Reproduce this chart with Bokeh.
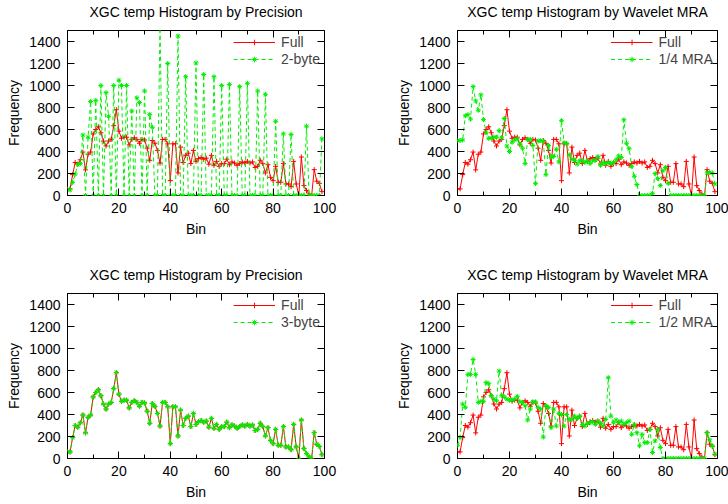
from bokeh.plotting import figure
from bokeh.layouts import gridplot
from bokeh.models import (Range1d, LinearAxis, SingleIntervalTicker, Legend, LegendItem,
                          ColumnDataSource, CustomJSTickFormatter)
from bokeh.embed import file_html
from bokeh.resources import INLINE

# ---------------- data ----------------
BINS = list(range(100))

FULL = [60, 60, 190, 300, 285, 325, 395, 233, 375, 395,
        560, 600, 625, 570, 495, 450, 495, 510, 635, 780,
        585, 520, 530, 530, 460, 510, 525, 510, 475, 510,
        505, 430, 320, 500, 475, 410, 295, 510, 510, 470,
        135, 470, 470, 205, 440, 300, 365, 385, 290, 410,
        310, 335, 345, 330, 340, 285, 365, 275, 310, 265,
        290, 290, 330, 280, 305, 295, 275, 290, 305, 295,
        310, 295, 305, 255, 265, 320, 290, 205, 280, 165,
        135, 265, 120, 120, 290, 105, 105, 80, 310, 105,
        0, 350, 90, 45, 15, 0, 235, 130, 110, 35]

TWO_BYTE = [57, 50, 120, 195, 280, 290, 550, 0, 530, 855,
            0, 865, 0, 1000, 0, 935, 720, 0, 1000, 0,
            1048, 1000, 0, 1000, 0, 768, 0, 888, 845, 0,
            950, 0, 738, 620, 0, 0, 1560, 0, 0, 1200,
            0, 0, 0, 1450, 0, 0, 1080, 0, 0, 0,
            1205, 0, 0, 1100, 0, 0, 0, 1080, 0, 0,
            1000, 0, 0, 1010, 0, 0, 0, 990, 0, 0,
            1020, 0, 0, 0, 950, 0, 0, 920, 0, 0,
            0, 675, 0, 0, 560, 0, 0, 555, 0, 0,
            0, 0, 0, 630, 0, 0, 0, 0, 0, 515]

THREE_BYTE = [60, 60, 190, 300, 285, 325, 395, 233, 375, 395,
              560, 600, 625, 570, 495, 450, 495, 510, 635, 780,
              585, 520, 530, 530, 460, 510, 525, 510, 475, 510,
              505, 430, 320, 500, 475, 410, 295, 510, 510, 470,
              135, 470, 470, 205, 440, 300, 365, 385, 290, 410,
              310, 335, 345, 330, 340, 285, 365, 275, 310, 265,
              290, 290, 330, 280, 305, 295, 275, 290, 305, 295,
              310, 295, 305, 255, 265, 320, 290, 205, 280, 165,
              135, 265, 120, 120, 290, 105, 105, 80, 310, 105,
              0, 350, 90, 45, 15, 0, 235, 130, 110, 35]

QUARTER_MRA = [500, 500, 505, 725, 735, 695, 990, 860, 775, 915,
               690, 575, 520, 520, 530, 530, 590, 525, 700, 450,
               400, 485, 505, 515, 470, 430, 290, 510, 510, 455,
               110, 495, 500, 495, 190, 455, 345, 355, 420, 305,
               680, 480, 470, 370, 330, 320, 285, 315, 315, 300,
               315, 290, 315, 320, 355, 275, 300, 290, 300, 290,
               300, 325, 360, 345, 688, 475, 425, 265, 175, 100,
               0, 0, 0, 0, 0, 20, 200, 155, 90, 225,
               255, 110, 0, 0, 0, 0, 0, 0, 0, 0,
               0, 0, 0, 0, 0, 0, 205, 210, 205, 105]

HALF_MRA = [120, 190, 495, 465, 765, 765, 900, 765, 510, 520,
            520, 690, 680, 570, 540, 525, 795, 570, 560, 540,
            530, 530, 540, 565, 515, 510, 480, 350, 450, 515,
            515, 465, 450, 195, 480, 465, 280, 450, 295, 410,
            400, 295, 400, 355, 355, 385, 365, 385, 310, 295,
            320, 325, 335, 310, 340, 320, 295, 355, 735, 385,
            325, 350, 325, 340, 310, 325, 340, 220, 310, 235,
            115, 220, 145, 145, 265, 55, 160, 265, 100, 0,
            0, 0, 0, 0, 0, 0, 0, 0, 0, 0,
            0, 0, 0, 0, 0, 0, 235, 170, 115, 40]

TITLE_PREC = "XGC temp Histogram by Precision"
TITLE_MRA = "XGC temp Histogram by Wavelet MRA"

# ---------------- style ----------------
FONT = "Liberation Sans"
FS = "14px"
RED = "#ff0000"
GREEN = "#00ee00"


def style_axis(ax, show_labels):
    ax.axis_line_color = None
    ax.major_tick_in = 7
    ax.major_tick_out = 0
    ax.minor_tick_in = 4
    ax.minor_tick_out = 0
    ax.major_tick_line_color = "black"
    ax.minor_tick_line_color = "black"
    ax.major_label_text_font = FONT
    ax.major_label_text_font_size = FS
    ax.major_label_text_color = "black"
    ax.axis_label_text_font = FONT
    ax.axis_label_text_font_size = FS
    ax.axis_label_text_font_style = "normal"
    ax.axis_label_text_color = "black"
    if not show_labels:
        ax.formatter = CustomJSTickFormatter(code="return ''")
        ax.major_label_standoff = 0


def make_panel(title, cmp_label, cmp_values, left, right, top, bottom):
    p = figure(width=364, height=252, output_backend="svg", toolbar_location=None,
               title=None,
               x_range=Range1d(0, 100), y_range=Range1d(0, 1500),
               min_border_left=left, min_border_right=right,
               min_border_top=top, min_border_bottom=bottom,
               x_axis_label="Bin", y_axis_label="Frequency")
    p.grid.visible = False
    p.outline_line_color = "black"
    p.outline_line_width = 1
    p.background_fill_color = "white"
    p.border_fill_color = "white"

    xt = SingleIntervalTicker(interval=20, num_minor_ticks=2)
    yt = SingleIntervalTicker(interval=200, num_minor_ticks=0)
    p.xaxis.ticker = xt
    p.yaxis.ticker = yt
    for ax in p.xaxis:
        style_axis(ax, True)
        ax.major_label_standoff = 7
        ax.axis_label_standoff = 5
    for ax in p.yaxis:
        style_axis(ax, True)
        ax.major_label_standoff = 7
        ax.axis_label_standoff = 4
        ax.minor_tick_line_color = None

    # mirrored top axis carries the panel title as its label
    top_ax = LinearAxis(ticker=xt, axis_label=title)
    style_axis(top_ax, False)
    top_ax.axis_label_standoff = 11
    p.add_layout(top_ax, "above")
    right_ax = LinearAxis(ticker=yt)
    style_axis(right_ax, False)
    right_ax.minor_tick_line_color = None
    p.add_layout(right_ax, "right")

    src = ColumnDataSource(dict(bin=BINS, full=FULL, cmp=cmp_values))
    r_full = p.line("bin", "full", source=src, line_color=RED, line_width=1)
    s_full = p.scatter("bin", "full", source=src, marker="cross", size=5,
                       line_color=RED, line_width=1)
    r_cmp = p.line("bin", "cmp", source=src, line_color=GREEN, line_width=1,
                   line_dash="4 3")
    s_cmp = p.scatter("bin", "cmp", source=src, marker="asterisk", size=5,
                      line_color=GREEN, line_width=1)

    legend = Legend(items=[LegendItem(label="Full", renderers=[r_full, s_full]),
                           LegendItem(label=cmp_label, renderers=[r_cmp, s_cmp])],
                    location="top_right")
    legend.border_line_color = None
    legend.background_fill_alpha = 0
    legend.label_text_font = FONT
    legend.label_text_font_size = FS
    legend.glyph_width = 42
    legend.glyph_height = 14
    legend.label_height = 14
    legend.spacing = 1
    legend.padding = 3
    legend.margin = 4
    legend.label_standoff = 6
    p.add_layout(legend)
    return p


p1 = make_panel(TITLE_PREC, "2-byte", TWO_BYTE, 67, 40, 30, 57)
p2 = make_panel(TITLE_MRA, "1/4 MRA", QUARTER_MRA, 93, 11, 30, 57)
p3 = make_panel(TITLE_PREC, "3-byte", THREE_BYTE, 67, 40, 41, 46)
p4 = make_panel(TITLE_MRA, "1/2 MRA", HALF_MRA, 93, 11, 41, 46)

grid = gridplot([[p1, p2], [p3, p4]], toolbar_location=None)

open("out.html", "w").write(file_html(grid, INLINE))
